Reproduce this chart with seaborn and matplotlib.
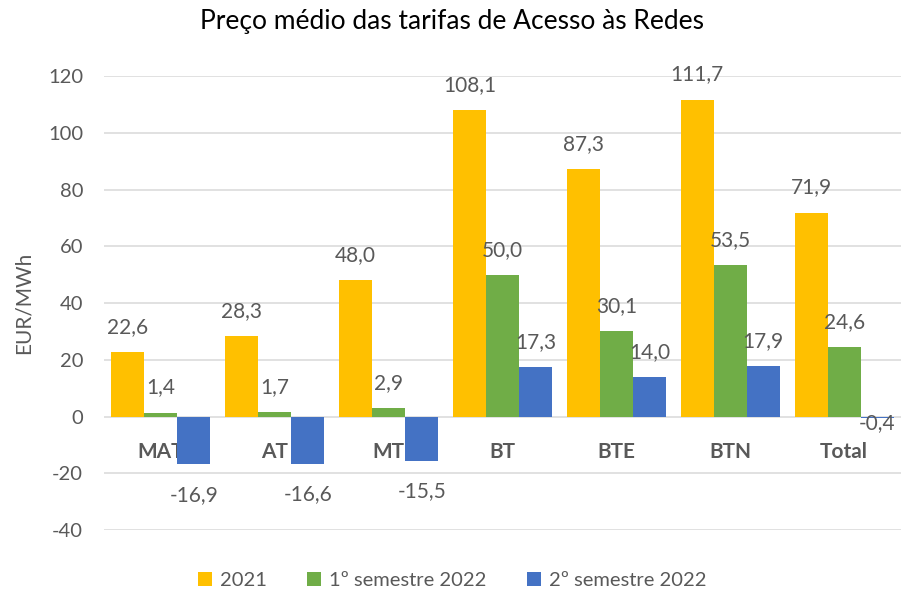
import matplotlib.pyplot as plt
import pandas as pd
import seaborn as sns

categories = ["MAT", "AT", "MT", "BT", "BTE", "BTN", "Total"]
series_names = ["2021", "1º semestre 2022", "2º semestre 2022"]
v_2021 = [22.6, 28.3, 48.0, 108.1, 87.3, 111.7, 71.9]
v_s1_2022 = [1.4, 1.7, 2.9, 50.0, 30.1, 53.5, 24.6]
v_s2_2022 = [-16.9, -16.6, -15.5, 17.3, 14.0, 17.9, -0.4]
colors = ["#FFC000", "#70AD47", "#4472C4"]

df = pd.DataFrame(
    {
        "cat": categories * 3,
        "serie": [s for s in series_names for _ in categories],
        "valor": v_2021 + v_s1_2022 + v_s2_2022,
    }
)

sns.set_theme(style="white")
plt.rcParams["font.family"] = ["Lato", "DejaVu Sans"]
plt.rcParams["axes.unicode_minus"] = False
gray = "#595959"

fig = plt.figure(figsize=(9.04, 5.94), dpi=100)
ax = fig.add_axes([0.115, 0.1077, 0.8817, 0.7643])

sns.barplot(
    data=df, x="cat", y="valor", hue="serie", order=categories,
    hue_order=series_names, palette=colors, width=0.87, saturation=1,
    edgecolor="none", ax=ax, errorbar=None, legend=True,
)

ax.set_xlim(-0.5, 6.5)
ax.set_ylim(-40, 120)
ax.set_yticks(range(-40, 121, 20))
ax.yaxis.grid(True, color="#D9D9D9", linewidth=1.1)
ax.set_axisbelow(True)
for s in ax.spines.values():
    s.set_visible(False)
ax.spines["bottom"].set_position(("data", 0))
ax.tick_params(axis="y", length=0, pad=15, labelsize=14.5, labelcolor=gray)
ax.tick_params(axis="x", length=0, pad=18, labelsize=15, labelcolor=gray)
for lab in ax.get_xticklabels():
    lab.set_fontweight("bold")
ax.set_xlabel("")
ax.set_ylabel("EUR/MWh", fontsize=15, color=gray, labelpad=10)

# value labels with comma decimals
for cont in ax.containers:
    for bar in cont:
        v = bar.get_height()
        x = bar.get_x() + bar.get_width() / 2
        txt = f"{v:.1f}".replace(".", ",")
        if v >= 0:
            dy = 18
        elif abs(v) < 1:
            dy = -4
        else:
            dy = -22
        ax.annotate(txt, (x, v), xytext=(0, dy), textcoords="offset points",
                    ha="center", va="center", fontsize=15, color=gray)

handles, labels = ax.get_legend_handles_labels()
ax.get_legend().remove()
fig.legend(handles, labels, loc="center", bbox_to_anchor=(0.5, 0.022),
           ncol=3, frameon=False, fontsize=14.5, labelcolor=gray,
           handlelength=0.7, handleheight=0.7, handletextpad=0.4,
           columnspacing=2.0)

fig.suptitle("Preço médio das tarifas de Acesso às Redes", x=0.5, y=0.985,
             fontsize=19, color="black")

fig.savefig("out.png", dpi=100)
